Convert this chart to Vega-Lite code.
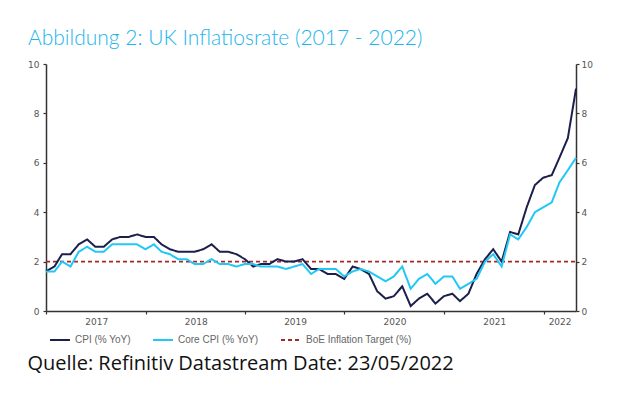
{
  "$schema": "https://vega.github.io/schema/vega-lite/v6.json",
  "width": 530,
  "height": 247,
  "autosize": {"type": "none"},
  "padding": {"left": 46, "top": 64, "right": 60, "bottom": 84},
  "background": "white",
  "title": {
    "text": "Abbildung 2: UK Inflatiosrate (2017 - 2022)",
    "anchor": "start",
    "frame": "group",
    "dx": -18,
    "dy": 18,
    "offset": 12,
    "baseline": "alphabetic",
    "font": "Lato",
    "fontSize": 21,
    "fontWeight": 300,
    "color": "#22b5ec"
  },
  "data": {
    "values": [
      {"date": "2016-12-31", "CPI (% YoY)": 1.6, "Core CPI (% YoY)": 1.6, "BoE Inflation Target (%)": 2},
      {"date": "2017-01-31", "CPI (% YoY)": 1.8, "Core CPI (% YoY)": 1.6, "BoE Inflation Target (%)": 2},
      {"date": "2017-02-28", "CPI (% YoY)": 2.3, "Core CPI (% YoY)": 2.0, "BoE Inflation Target (%)": 2},
      {"date": "2017-03-31", "CPI (% YoY)": 2.3, "Core CPI (% YoY)": 1.8, "BoE Inflation Target (%)": 2},
      {"date": "2017-04-30", "CPI (% YoY)": 2.7, "Core CPI (% YoY)": 2.4, "BoE Inflation Target (%)": 2},
      {"date": "2017-05-31", "CPI (% YoY)": 2.9, "Core CPI (% YoY)": 2.6, "BoE Inflation Target (%)": 2},
      {"date": "2017-06-30", "CPI (% YoY)": 2.6, "Core CPI (% YoY)": 2.4, "BoE Inflation Target (%)": 2},
      {"date": "2017-07-31", "CPI (% YoY)": 2.6, "Core CPI (% YoY)": 2.4, "BoE Inflation Target (%)": 2},
      {"date": "2017-08-31", "CPI (% YoY)": 2.9, "Core CPI (% YoY)": 2.7, "BoE Inflation Target (%)": 2},
      {"date": "2017-09-30", "CPI (% YoY)": 3.0, "Core CPI (% YoY)": 2.7, "BoE Inflation Target (%)": 2},
      {"date": "2017-10-31", "CPI (% YoY)": 3.0, "Core CPI (% YoY)": 2.7, "BoE Inflation Target (%)": 2},
      {"date": "2017-11-30", "CPI (% YoY)": 3.1, "Core CPI (% YoY)": 2.7, "BoE Inflation Target (%)": 2},
      {"date": "2017-12-31", "CPI (% YoY)": 3.0, "Core CPI (% YoY)": 2.5, "BoE Inflation Target (%)": 2},
      {"date": "2018-01-31", "CPI (% YoY)": 3.0, "Core CPI (% YoY)": 2.7, "BoE Inflation Target (%)": 2},
      {"date": "2018-02-28", "CPI (% YoY)": 2.7, "Core CPI (% YoY)": 2.4, "BoE Inflation Target (%)": 2},
      {"date": "2018-03-31", "CPI (% YoY)": 2.5, "Core CPI (% YoY)": 2.3, "BoE Inflation Target (%)": 2},
      {"date": "2018-04-30", "CPI (% YoY)": 2.4, "Core CPI (% YoY)": 2.1, "BoE Inflation Target (%)": 2},
      {"date": "2018-05-31", "CPI (% YoY)": 2.4, "Core CPI (% YoY)": 2.1, "BoE Inflation Target (%)": 2},
      {"date": "2018-06-30", "CPI (% YoY)": 2.4, "Core CPI (% YoY)": 1.9, "BoE Inflation Target (%)": 2},
      {"date": "2018-07-31", "CPI (% YoY)": 2.5, "Core CPI (% YoY)": 1.9, "BoE Inflation Target (%)": 2},
      {"date": "2018-08-31", "CPI (% YoY)": 2.7, "Core CPI (% YoY)": 2.1, "BoE Inflation Target (%)": 2},
      {"date": "2018-09-30", "CPI (% YoY)": 2.4, "Core CPI (% YoY)": 1.9, "BoE Inflation Target (%)": 2},
      {"date": "2018-10-31", "CPI (% YoY)": 2.4, "Core CPI (% YoY)": 1.9, "BoE Inflation Target (%)": 2},
      {"date": "2018-11-30", "CPI (% YoY)": 2.3, "Core CPI (% YoY)": 1.8, "BoE Inflation Target (%)": 2},
      {"date": "2018-12-31", "CPI (% YoY)": 2.1, "Core CPI (% YoY)": 1.9, "BoE Inflation Target (%)": 2},
      {"date": "2019-01-31", "CPI (% YoY)": 1.8, "Core CPI (% YoY)": 1.9, "BoE Inflation Target (%)": 2},
      {"date": "2019-02-28", "CPI (% YoY)": 1.9, "Core CPI (% YoY)": 1.8, "BoE Inflation Target (%)": 2},
      {"date": "2019-03-31", "CPI (% YoY)": 1.9, "Core CPI (% YoY)": 1.8, "BoE Inflation Target (%)": 2},
      {"date": "2019-04-30", "CPI (% YoY)": 2.1, "Core CPI (% YoY)": 1.8, "BoE Inflation Target (%)": 2},
      {"date": "2019-05-31", "CPI (% YoY)": 2.0, "Core CPI (% YoY)": 1.7, "BoE Inflation Target (%)": 2},
      {"date": "2019-06-30", "CPI (% YoY)": 2.0, "Core CPI (% YoY)": 1.8, "BoE Inflation Target (%)": 2},
      {"date": "2019-07-31", "CPI (% YoY)": 2.1, "Core CPI (% YoY)": 1.9, "BoE Inflation Target (%)": 2},
      {"date": "2019-08-31", "CPI (% YoY)": 1.7, "Core CPI (% YoY)": 1.5, "BoE Inflation Target (%)": 2},
      {"date": "2019-09-30", "CPI (% YoY)": 1.7, "Core CPI (% YoY)": 1.7, "BoE Inflation Target (%)": 2},
      {"date": "2019-10-31", "CPI (% YoY)": 1.5, "Core CPI (% YoY)": 1.7, "BoE Inflation Target (%)": 2},
      {"date": "2019-11-30", "CPI (% YoY)": 1.5, "Core CPI (% YoY)": 1.7, "BoE Inflation Target (%)": 2},
      {"date": "2019-12-31", "CPI (% YoY)": 1.3, "Core CPI (% YoY)": 1.4, "BoE Inflation Target (%)": 2},
      {"date": "2020-01-31", "CPI (% YoY)": 1.8, "Core CPI (% YoY)": 1.6, "BoE Inflation Target (%)": 2},
      {"date": "2020-02-29", "CPI (% YoY)": 1.7, "Core CPI (% YoY)": 1.7, "BoE Inflation Target (%)": 2},
      {"date": "2020-03-31", "CPI (% YoY)": 1.5, "Core CPI (% YoY)": 1.6, "BoE Inflation Target (%)": 2},
      {"date": "2020-04-30", "CPI (% YoY)": 0.8, "Core CPI (% YoY)": 1.4, "BoE Inflation Target (%)": 2},
      {"date": "2020-05-31", "CPI (% YoY)": 0.5, "Core CPI (% YoY)": 1.2, "BoE Inflation Target (%)": 2},
      {"date": "2020-06-30", "CPI (% YoY)": 0.6, "Core CPI (% YoY)": 1.4, "BoE Inflation Target (%)": 2},
      {"date": "2020-07-31", "CPI (% YoY)": 1.0, "Core CPI (% YoY)": 1.8, "BoE Inflation Target (%)": 2},
      {"date": "2020-08-31", "CPI (% YoY)": 0.2, "Core CPI (% YoY)": 0.9, "BoE Inflation Target (%)": 2},
      {"date": "2020-09-30", "CPI (% YoY)": 0.5, "Core CPI (% YoY)": 1.3, "BoE Inflation Target (%)": 2},
      {"date": "2020-10-31", "CPI (% YoY)": 0.7, "Core CPI (% YoY)": 1.5, "BoE Inflation Target (%)": 2},
      {"date": "2020-11-30", "CPI (% YoY)": 0.3, "Core CPI (% YoY)": 1.1, "BoE Inflation Target (%)": 2},
      {"date": "2020-12-31", "CPI (% YoY)": 0.6, "Core CPI (% YoY)": 1.4, "BoE Inflation Target (%)": 2},
      {"date": "2021-01-31", "CPI (% YoY)": 0.7, "Core CPI (% YoY)": 1.4, "BoE Inflation Target (%)": 2},
      {"date": "2021-02-28", "CPI (% YoY)": 0.4, "Core CPI (% YoY)": 0.9, "BoE Inflation Target (%)": 2},
      {"date": "2021-03-31", "CPI (% YoY)": 0.7, "Core CPI (% YoY)": 1.1, "BoE Inflation Target (%)": 2},
      {"date": "2021-04-30", "CPI (% YoY)": 1.5, "Core CPI (% YoY)": 1.3, "BoE Inflation Target (%)": 2},
      {"date": "2021-05-31", "CPI (% YoY)": 2.1, "Core CPI (% YoY)": 2.0, "BoE Inflation Target (%)": 2},
      {"date": "2021-06-30", "CPI (% YoY)": 2.5, "Core CPI (% YoY)": 2.3, "BoE Inflation Target (%)": 2},
      {"date": "2021-07-31", "CPI (% YoY)": 2.0, "Core CPI (% YoY)": 1.8, "BoE Inflation Target (%)": 2},
      {"date": "2021-08-31", "CPI (% YoY)": 3.2, "Core CPI (% YoY)": 3.1, "BoE Inflation Target (%)": 2},
      {"date": "2021-09-30", "CPI (% YoY)": 3.1, "Core CPI (% YoY)": 2.9, "BoE Inflation Target (%)": 2},
      {"date": "2021-10-31", "CPI (% YoY)": 4.2, "Core CPI (% YoY)": 3.4, "BoE Inflation Target (%)": 2},
      {"date": "2021-11-30", "CPI (% YoY)": 5.1, "Core CPI (% YoY)": 4.0, "BoE Inflation Target (%)": 2},
      {"date": "2021-12-31", "CPI (% YoY)": 5.4, "Core CPI (% YoY)": 4.2, "BoE Inflation Target (%)": 2},
      {"date": "2022-01-31", "CPI (% YoY)": 5.5, "Core CPI (% YoY)": 4.4, "BoE Inflation Target (%)": 2},
      {"date": "2022-02-28", "CPI (% YoY)": 6.2, "Core CPI (% YoY)": 5.2, "BoE Inflation Target (%)": 2},
      {"date": "2022-03-31", "CPI (% YoY)": 7.0, "Core CPI (% YoY)": 5.7, "BoE Inflation Target (%)": 2},
      {"date": "2022-04-30", "CPI (% YoY)": 9.0, "Core CPI (% YoY)": 6.2, "BoE Inflation Target (%)": 2}
    ]
  },
  "transform": [
    {"fold": ["CPI (% YoY)", "Core CPI (% YoY)", "BoE Inflation Target (%)"], "as": ["series", "value"]}
  ],
  "encoding": {
    "x": {
      "field": "date",
      "type": "temporal",
      "scale": {
        "type": "utc",
        "domain": [
          {"year": 2016, "month": 12, "date": 31, "utc": true},
          {"year": 2022, "month": 4, "date": 30, "utc": true}
        ]
      },
      "axis": {
        "values": [
          {"year": 2017, "month": 1, "date": 1, "utc": true},
          {"year": 2018, "month": 1, "date": 1, "utc": true},
          {"year": 2019, "month": 1, "date": 1, "utc": true},
          {"year": 2020, "month": 1, "date": 1, "utc": true},
          {"year": 2021, "month": 1, "date": 1, "utc": true},
          {"year": 2022, "month": 1, "date": 1, "utc": true}
        ],
        "format": "%Y",
        "labelOffset": {"condition": {"test": "utcyear(datum.value) === 2022", "value": 16}, "value": 50},
        "labelFlush": false,
        "labelOverlap": false,
        "labelBound": false,
        "tickSize": 3,
        "labelPadding": 3,
        "title": "Quelle: Refinitiv Datastream Date: 23/05/2022",
        "titleX": -19,
        "titleY": 58,
        "titleAlign": "left",
        "titleAnchor": "start",
        "titleBaseline": "alphabetic",
        "titleFont": "Open Sans",
        "titleFontSize": 20,
        "titleFontWeight": "normal",
        "titleColor": "#111111"
      }
    },
    "y": {
      "field": "value",
      "type": "quantitative",
      "scale": {"domain": [0, 10], "nice": false}
    },
    "color": {
      "field": "series",
      "type": "nominal",
      "scale": {
        "domain": ["CPI (% YoY)", "Core CPI (% YoY)", "BoE Inflation Target (%)"],
        "range": ["#1c1f4c", "#22c8f5", "#a3282a"]
      },
      "legend": {"title": null}
    },
    "strokeDash": {
      "field": "series",
      "type": "nominal",
      "scale": {
        "domain": ["CPI (% YoY)", "Core CPI (% YoY)", "BoE Inflation Target (%)"],
        "range": [[1, 0], [1, 0], [4, 3]]
      },
      "legend": {"title": null}
    }
  },
  "layer": [
    {
      "transform": [{"filter": "datum.series === 'BoE Inflation Target (%)'"}],
      "mark": {"type": "line", "strokeWidth": 1.6},
      "encoding": {
        "y": {
          "field": "value",
          "type": "quantitative",
          "scale": {"domain": [0, 10], "nice": false},
          "axis": {"orient": "left", "values": [0, 2, 4, 6, 8, 10], "title": null, "tickSize": 3, "labelPadding": 4}
        }
      }
    },
    {
      "transform": [{"filter": "datum.series !== 'BoE Inflation Target (%)'"}],
      "mark": {"type": "line", "strokeWidth": 2},
      "encoding": {
        "y": {
          "field": "value",
          "type": "quantitative",
          "scale": {"domain": [0, 10], "nice": false},
          "axis": {"orient": "right", "values": [0, 2, 4, 6, 8, 10], "title": null, "tickSize": 3, "labelPadding": 2}
        }
      }
    }
  ],
  "resolve": {"scale": {"y": "shared"}, "axis": {"y": "independent"}},
  "config": {
    "view": {"stroke": null},
    "axis": {
      "grid": false,
      "domainColor": "#333333",
      "domainWidth": 1.5,
      "tickColor": "#333333",
      "tickWidth": 1.2,
      "labelFont": "DejaVu Sans",
      "labelFontSize": 9,
      "labelColor": "#555555"
    },
    "legend": {
      "orient": "none",
      "legendX": 3,
      "legendY": 265,
      "direction": "horizontal",
      "symbolType": "stroke",
      "symbolSize": 400,
      "symbolStrokeWidth": 2,
      "labelFont": "Liberation Sans",
      "labelFontSize": 10,
      "labelColor": "#666666",
      "labelOffset": 4,
      "columnPadding": 18
    }
  }
}
